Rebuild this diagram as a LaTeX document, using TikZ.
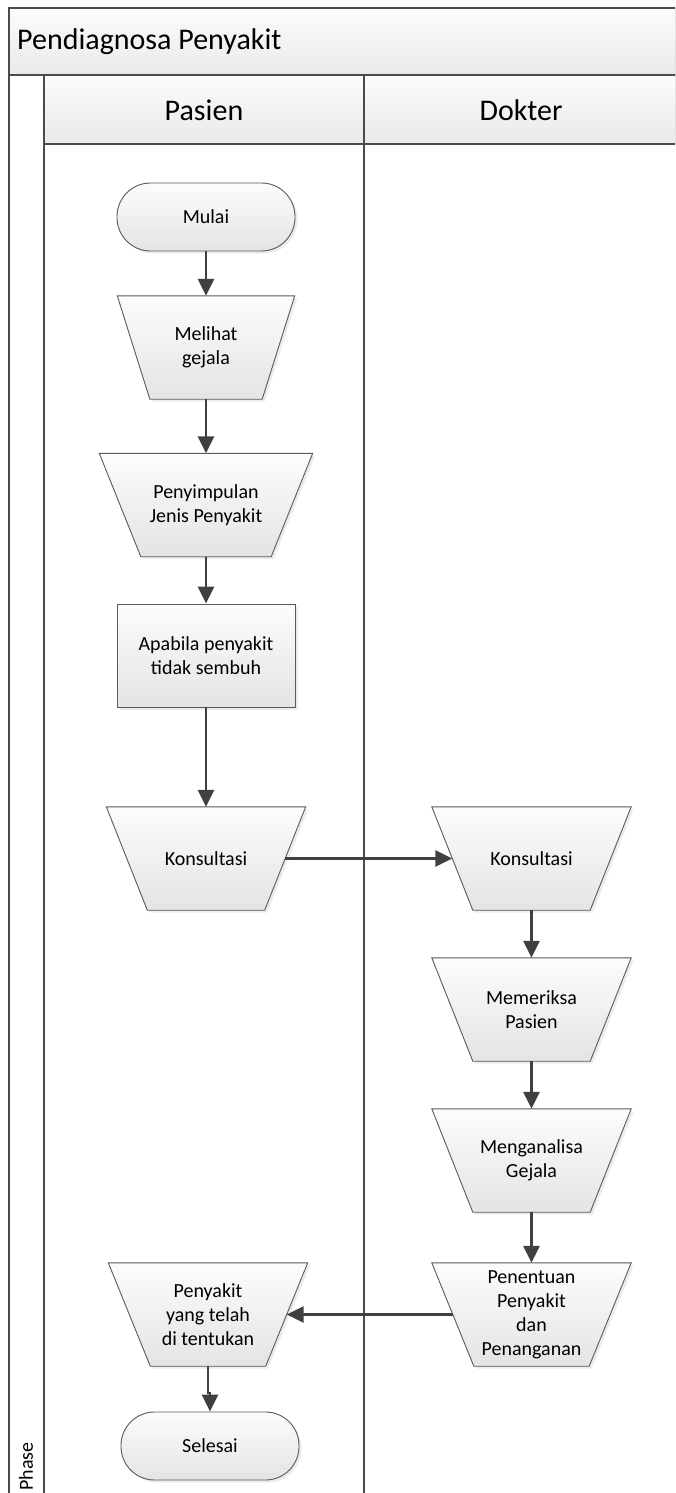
\documentclass[tikz,border=0pt]{standalone}
\usepackage{fontspec}
\setmainfont{Carlito}
\usetikzlibrary{arrows.meta,shadows,backgrounds}

\definecolor{frameline}{HTML}{4A4A4A}
\definecolor{shapeline}{HTML}{5A5A5A}
\definecolor{arrowline}{HTML}{404040}
\definecolor{shadetop}{HTML}{FCFCFC}
\definecolor{shadebot}{HTML}{E4E4E4}

% trapezoid outline around a named node: top edge widened, bottom edge narrowed by #2
\newcommand\iobox[2]{%
  \begin{pgfonlayer}{background}
    \path[ioshape] ([xshift=-#2]#1.north west) -- ([xshift=#2]#1.north east)
      -- ([xshift=-#2]#1.south east) -- ([xshift=#2]#1.south west) -- cycle;
  \end{pgfonlayer}}

\begin{document}
\begin{tikzpicture}[x=1pt,y=-1pt,
  lane/.style={draw=frameline,line width=2pt},
  band/.style={top color=shadetop,bottom color=shadebot!80!white},
  look/.style={draw=shapeline,line width=0.9pt,top color=shadetop,bottom color=shadebot,
    drop shadow={shadow xshift=2.5pt,shadow yshift=-2.5pt,fill=black!15}},
  txt/.style={font=\fontsize{20}{24}\selectfont,align=center,inner sep=0pt},
  ioshape/.style={look},
  io/.style={txt,rectangle,minimum width=#1,minimum height=103pt},
  proc/.style={look,txt,rectangle,minimum width=178pt,minimum height=103pt},
  term/.style={look,txt,rectangle,rounded corners=33.5pt,minimum width=178pt,minimum height=68pt},
  arr/.style={draw=arrowline,line width=2.6pt,-{Triangle[width=16pt,length=17pt]}},
  head/.style={font=\fontsize{30}{36}\selectfont,inner sep=0pt}
]
\useasboundingbox (0,0) rectangle (675,1493);
\clip (0,0) rectangle (675,1493);

% pool frame with title band and lane headers
\fill[band] (9,8) rectangle (680,75);
\fill[band] (44,75) rectangle (680,144);
\draw[lane] (9,1500) -- (9,8) -- (680,8);
\draw[lane] (9,75) -- (680,75);
\draw[lane] (44,75) -- (44,1500);
\draw[lane] (44,144) -- (680,144);
\draw[lane] (364,75) -- (364,1500);

\node[head,anchor=west] (title) at (17,42) {Pendiagnosa Penyakit};
\node[head] (pasien) at (204,110) {Pasien};
\node[head] (dokter) at (521,110) {Dokter};
\node[txt,rotate=90,anchor=west] (phase) at (26,1491) {Phase};

% patient lane
\node[term] (mulai) at (206,217) {Mulai};
\node[io=144.5pt] (lihat) at (206,347.5) {Melihat\\gejala};
\node[io=171.5pt] (simpul) at (206,505) {Penyimpulan\\Jenis Penyakit};
\node[proc] (apabila) at (206,655.5) {Apabila penyakit\\tidak sembuh};
\node[io=158pt] (konsulP) at (206,858.5) {Konsultasi};
\node[io=157pt] (hasil) at (208,1314.5) {Penyakit\\yang telah\\di tentukan};
\node[term] (selesai) at (210,1446) {Selesai};

% doctor lane
\node[io=158pt] (konsulD) at (531.5,858.5) {Konsultasi};
\node[io=158pt] (periksa) at (531.5,1009.5) {Memeriksa\\Pasien};
\node[io=158pt] (analisa) at (531.5,1160.5) {Menganalisa\\Gejala};
\node[io=157pt] (tentu) at (531.5,1314.5) {Penentuan\\Penyakit\\dan\\Penanganan};

\iobox{lihat}{16.25pt}
\iobox{simpul}{20.75pt}
\iobox{konsulP}{20.5pt}
\iobox{hasil}{21pt}
\iobox{konsulD}{20.5pt}
\iobox{periksa}{20.5pt}
\iobox{analisa}{20.5pt}
\iobox{tentu}{21pt}

% flow
\draw[arr] (mulai) -- (lihat);
\draw[arr] (lihat) -- (simpul);
\draw[arr] (simpul) -- (apabila);
\draw[arr] (apabila) -- (konsulP);
\draw[arr] (konsulP) -- (konsulD);
\draw[arr] (konsulD) -- (periksa);
\draw[arr] (periksa) -- (analisa);
\draw[arr] (analisa) -- (tentu);
\draw[arr] (tentu) -- (hasil);
\coordinate (jog) at (208,1393);
\draw[arr] (hasil) -- (jog) -| (selesai.north);
\end{tikzpicture}
\end{document}
